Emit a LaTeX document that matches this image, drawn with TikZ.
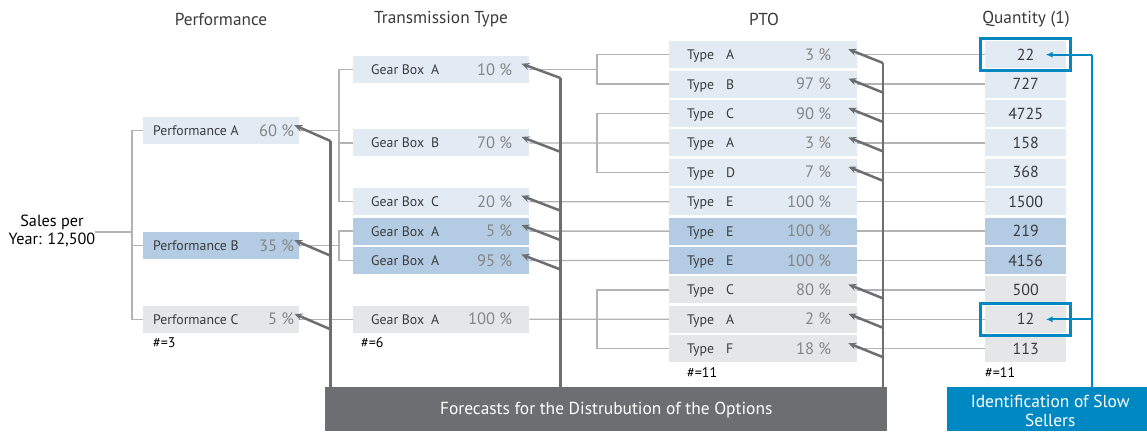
\documentclass[tikz,border=0pt]{standalone}
\usepackage{fontspec}
\setmainfont{PT Sans}
\usetikzlibrary{arrows.meta,calc,fit}

\definecolor{lb}{HTML}{E2EAF4}
\definecolor{mb}{HTML}{B4CCE3}
\definecolor{gb}{HTML}{E5E6E8}
\definecolor{connc}{HTML}{B3B3B3}
\definecolor{fcc}{HTML}{6D6E71}
\definecolor{bl}{HTML}{0088C2}
\definecolor{txt}{HTML}{3A3A3A}
\definecolor{pctc}{HTML}{858585}

\tikzset{
  cell/.style={rectangle, inner sep=0pt, minimum height=27pt, draw=none, anchor=north west},
  lab/.style={inner sep=0pt, text=txt, font=\fontsize{13.8}{16}\selectfont, anchor=base west},
  pct/.style={inner sep=0pt, text=pctc, font=\fontsize{16.5}{18}\selectfont, anchor=base east},
  num/.style={inner sep=0pt, text=txt, font=\fontsize{16}{18}\selectfont, anchor=base},
  head/.style={inner sep=0pt, text=txt, font=\fontsize{17.3}{19}\selectfont},
  cnt/.style={inner sep=0pt, text=black, font=\fontsize{14}{16}\selectfont, anchor=west},
  conn/.style={draw=connc, line width=1.3pt},
  fc/.style={draw=fcc, line width=2.5pt},
  fcarrow/.style={fc, -{Stealth[length=8pt,width=7pt]}},
  blline/.style={draw=bl, line width=2.2pt},
  hl/.style={draw=bl, line width=3pt, rectangle, inner xsep=4.5pt, inner ysep=2.5pt},
}

\begin{document}
\begin{tikzpicture}[x=1pt,y=-1pt]
\useasboundingbox (0,0) rectangle (1147,431);

% column headings
\node[head] (hPerf) at (221,19) {Performance};
\node[head] (hTrans) at (441,19) {Transmission Type};
\node[head] (hPto) at (764,19) {PTO};
\node[head] (hQty) at (1026,19) {Quantity (1)};

% root
\node[inner sep=0pt, text=black, align=center, font=\fontsize{16.2}{18.5}\selectfont] (sales) at (52,231) {Sales per\\Year: 12,500};

% performance level
\node[cell, fill=lb, minimum width=156pt] (pA) at (143,117) {};
\node[cell, fill=mb, minimum width=156pt] (pB) at (143,232) {};
\node[cell, fill=gb, minimum width=156pt] (pC) at (143,305.6) {};
\foreach \n/\t/\p in {pA/Performance A/60, pB/Performance B/35, pC/Performance C/5}{
  \node[lab] (\n l) at ($(\n.west)+(10,5)$) {\t};
  \node[pct] (\n p) at ($(\n.east)+(-5,5.5)$) {\p~\%};
}
\node[cnt] (cnt1) at (153,343) {\#=3};

% transmission level
\foreach \n/\y/\f/\k/\p in {g1/56/lb/A/10, g2/129.2/lb/B/70, g3/188/lb/C/20, g4/217.4/mb/A/5, g5/246.8/mb/A/95, g6/305.6/gb/A/100}{
  \node[cell, fill=\f, minimum width=176pt] (\n) at (353,\y) {};
  \node[lab] (\n l) at ($(\n.west)+(18,5)$) {Gear Box};
  \node[lab] (\n k) at ($(\n.west)+(78,5)$) {\k};
  \node[pct] (\n p) at ($(\n.east)+(-17,5.5)$) {\p~\%};
}
\node[cnt] (cnt2) at (361,343) {\#=6};

% PTO level and quantities
\foreach \i/\k/\p/\f/\q in {0/A/3/lb/22, 1/B/97/lb/727, 2/C/90/lb/4725, 3/A/3/lb/158, 4/D/7/lb/368, 5/E/100/lb/1500, 6/E/100/mb/219, 7/E/100/mb/4156, 8/C/80/gb/500, 9/A/2/gb/12, 10/F/18/gb/113}{
  \pgfmathsetmacro\yt{41+29.4*\i}
  \node[cell, fill=\f, minimum width=188pt] (t\i) at (669,\yt) {};
  \node[lab] (t\i l) at ($(t\i.west)+(18,5)$) {Type};
  \node[lab] (t\i k) at ($(t\i.west)+(57,5)$) {\k};
  \node[pct] (t\i p) at ($(t\i.east)+(-26,5.5)$) {\p~\%};
  \node[cell, fill=\f, minimum width=81pt] (q\i) at (985,\yt) {};
  \node[num] (q\i n) at ($(q\i.center)+(0,5.5)$) {\q};
  \draw[conn] (t\i.east) -- (q\i.west);
}
\node[cnt] (cnt3) at (687,373) {\#=11};
\node[cnt] (cnt4) at (985,373) {\#=11};

% tree: root to performance
\coordinate (j0) at (132,232);
\draw[conn] (sales.east |- j0) -- (j0);
\draw[conn] (pA.west) -- (pA.west -| j0) -- (pC.west -| j0) -- (pC.west);
\draw[conn] (pB.west) -- (pB.west -| j0);

% tree: performance to transmission
\coordinate (j1) at (339,0);
\draw[conn] (pA.east) -- (pA.east -| j1);
\draw[conn] (g1.west) -- (g1.west -| j1) -- (g3.west -| j1) -- (g3.west);
\draw[conn] (g2.west) -- (g2.west -| j1);
\draw[conn] (pB.east) -- (pB.east -| j1);
\draw[conn] (g4.west) -- (g4.west -| j1) -- (g5.west -| j1) -- (g5.west);
\draw[conn] (pC.east) -- (g6.west);

% tree: transmission to PTO
\coordinate (j2) at (597,0);
\draw[conn] (g1.east) -- (g1.east -| j2);
\draw[conn] (t0.west) -- (t0.west -| j2) -- (t1.west -| j2) -- (t1.west);
\draw[conn] (g2.east) -- (t3.west);
\draw[conn] (t2.west) -- (t2.west -| j2) -- (t4.west -| j2) -- (t4.west);
\draw[conn] (g3.east) -- (t5.west);
\draw[conn] (g4.east) -- (t6.west);
\draw[conn] (g5.east) -- (t7.west);
\draw[conn] (g6.east) -- (t9.west);
\draw[conn] (t8.west) -- (t8.west -| j2) -- (t10.west -| j2) -- (t10.west);

% forecast banner
\node[fill=fcc, minimum width=562pt, minimum height=44pt, inner sep=0pt, anchor=north west] (fbox) at (325,387) {};
\node[inner sep=0pt, text=white, font=\fontsize{17.4}{19}\selectfont] (ftext) at ($(fbox.center)+(0,1)$) {Forecasts for the Distrubution of the Options};

% forecast feedback lines
\coordinate (v1) at (330.5,141);
\coordinate (v2) at (560.5,78);
\coordinate (v3) at (883,63);
\draw[fc] (v1) -- (fbox.north -| v1);
\draw[fc] (v2) -- (fbox.north -| v2);
\draw[fc] (v3) -- (fbox.north -| v3);
\draw[fcarrow] (v1) -- ($(pA.east)+(-5,-5.5)$);
\foreach \n in {pB,pC}{
  \draw[fcarrow] ($(\n.east -| v1)+(0,10)$) -- ($(\n.east)+(-5,-5.5)$);
}
\draw[fcarrow] (v2) -- ($(g1.east)+(-8,-6)$);
\foreach \n in {g2,g3,g4,g5}{
  \draw[fcarrow] ($(\n.east -| v2)+(0,9)$) -- ($(\n.east)+(-8,-6)$);
}
\draw[fcarrow] (v3) -- ($(t0.east)+(-9,-5.5)$);
\foreach \n in {t1,t2,t3,t4,t8,t9,t10}{
  \draw[fcarrow] ($(\n.east -| v3)+(0,8.5)$) -- ($(\n.east)+(-9,-5.5)$);
}

% slow sellers
\node[fill=bl, minimum width=200pt, minimum height=44pt, inner sep=0pt, anchor=north west] (sbox) at (947,387) {};
\node[inner sep=0pt, text=white, align=center, font=\fontsize{17.4}{19.5}\selectfont] (stext) at ($(sbox.center)+(3,1.5)$) {Identification of Slow\\Sellers};
\node[hl, fit=(q0)] (h0) {};
\node[hl, fit=(q9)] (h9) {};
\coordinate (bj) at (1092,0);
\draw[blline] (q0.center -| bj) -- (sbox.north -| bj);
\draw[blline, -{Latex[length=7pt,width=6pt]}] (q0.center -| bj) -- ($(q0.center)+(20,0)$);
\draw[blline, -{Latex[length=7pt,width=6pt]}] (q9.center -| bj) -- ($(q9.center)+(20,0)$);
\end{tikzpicture}
\end{document}
